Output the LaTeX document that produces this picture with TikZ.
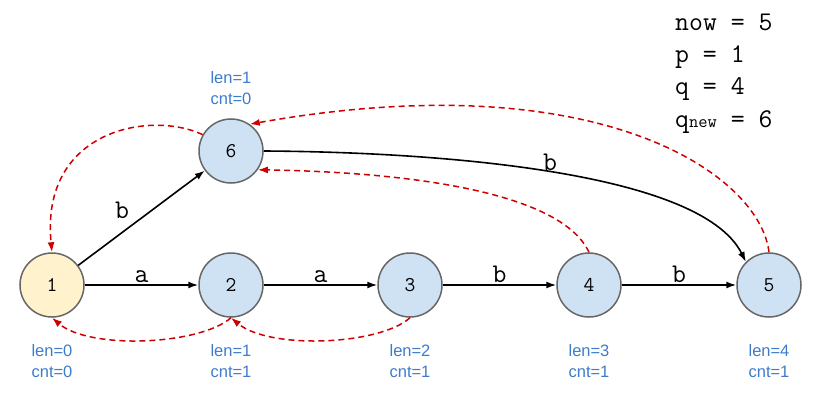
\documentclass[tikz,border=0pt]{standalone}
\usepackage{fontspec}
\setmainfont{Liberation Sans}
\usetikzlibrary{arrows.meta}
\definecolor{nodeblue}{HTML}{CFE2F3}
\definecolor{nodeyellow}{HTML}{FFF2CC}
\definecolor{nodeborder}{HTML}{666666}
\definecolor{lblue}{HTML}{3D7CC9}
\definecolor{linkred}{HTML}{CC0000}
\tikzset{
  state/.style={circle, draw=nodeborder, line width=1.5pt, minimum size=64pt, inner sep=0pt, fill=nodeblue, font=\ttfamily\fontsize{21}{21}\selectfont},
  edge/.style={-{Latex[length=10pt,width=7pt]}, line width=1.6pt, black},
  link/.style={-{Latex[length=10pt,width=7pt]}, line width=1.5pt, linkred, dash pattern=on 6pt off 4pt},
  elab/.style={font=\ttfamily\fontsize{27}{27}\selectfont},
  info/.style={font=\fontsize{16.5}{21}\selectfont, text=lblue, align=left},
  var/.style={font=\ttfamily\fontsize{27}{27}\selectfont, anchor=base west, inner sep=0pt}
}
\begin{document}
\begin{tikzpicture}[x=1pt,y=-1pt]
\useasboundingbox (0,0) rectangle (822,420);
\node[state, fill=nodeyellow] (n1) at (52,285) {1};
\node[state] (n2) at (231,285) {2};
\node[state] (n3) at (410,285) {3};
\node[state] (n4) at (589,285) {4};
\node[state] (n5) at (769,285) {5};
\node[state] (n6) at (231,151) {6};

\draw[edge] (n1) -- node[elab, above, yshift=-2pt] {a} (n2);
\draw[edge] (n2) -- node[elab, above, yshift=-2pt] {a} (n3);
\draw[edge] (n3) -- node[elab, above, yshift=-2pt] {b} (n4);
\draw[edge] (n4) -- node[elab, above, yshift=-2pt] {b} (n5);
\draw[edge] (n1) -- node[elab, above left, pos=0.45, xshift=-2pt] {b} (n6);
\draw[edge] (n6.east) .. controls (430,152) and (700,170) .. node[elab, pos=0.5, above, yshift=-2pt] {b} (n5.north west);

\draw[link] (n6.150) .. controls (150,110) and (40,130) .. (n1.north);
\draw[link] (n5.north) .. controls (760,175) and (600,62) .. (n6.55);
\draw[link] (n4.north) .. controls (560,190) and (400,172) .. (n6.-35);
\draw[link] (n2.south) .. controls (200,345) and (90,350) .. (n1.south);
\draw[link] (n3.south) .. controls (380,345) and (270,350) .. (n2.south);

\node[info] (i1) at (52,361) {len=0\\cnt=0};
\node[info] (i2) at (231,361) {len=1\\cnt=1};
\node[info] (i3) at (410,361) {len=2\\cnt=1};
\node[info] (i4) at (589,361) {len=3\\cnt=1};
\node[info] (i5) at (769,361) {len=4\\cnt=1};
\node[info] (i6) at (231,88) {len=1\\cnt=0};

\node[var] (v1) at (675,31) {now = 5};
\node[var] (v2) at (675,63) {p = 1};
\node[var] (v3) at (675,95) {q = 4};
\node[var] (v4) at (675,127) {q{\fontsize{18}{18}\selectfont new} = 6};
\end{tikzpicture}
\end{document}
